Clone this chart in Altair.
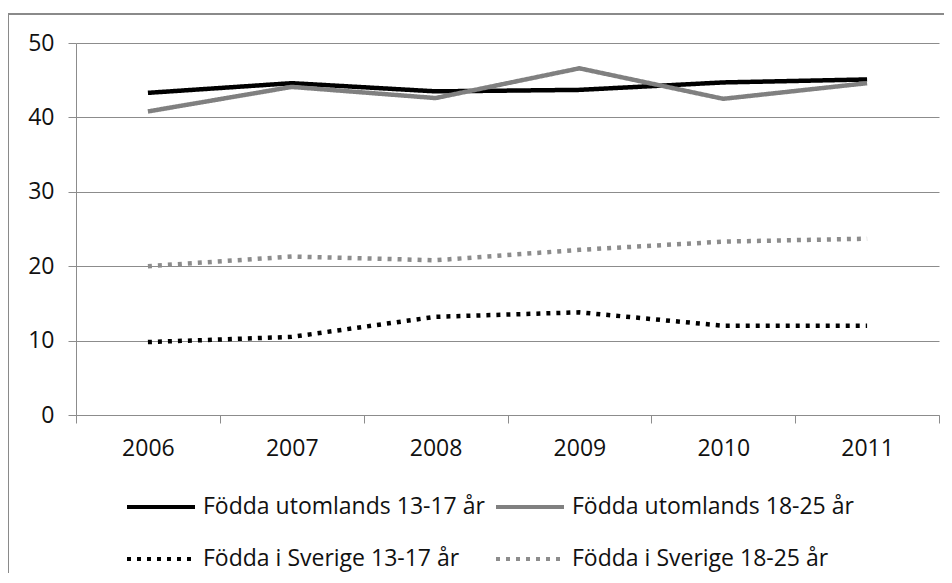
import altair as alt
import pandas as pd

years = ["2006", "2007", "2008", "2009", "2010", "2011"]
series_names = [
    "Födda utomlands 13-17 år",
    "Födda utomlands 18-25 år",
    "Födda i Sverige 13-17 år",
    "Födda i Sverige 18-25 år",
]
utl_13_17 = [43.3, 44.6, 43.5, 43.7, 44.7, 45.1]
utl_18_25 = [40.8, 44.1, 42.6, 46.6, 42.5, 44.6]
sve_13_17 = [9.8, 10.5, 13.2, 13.8, 12.0, 12.0]
sve_18_25 = [20.0, 21.3, 20.8, 22.2, 23.3, 23.7]
y_ticks = [0, 10, 20, 30, 40, 50]

series_colors = ["#000000", "#808080", "#000000", "#8c8c8c"]
series_dash = [[1, 0], [1, 0], [4, 6], [4, 6]]

rows = []
for name, vals in zip(series_names, [utl_13_17, utl_18_25, sve_13_17, sve_18_25]):
    for yr, v in zip(years, vals):
        rows.append({"Serie": name, "År": yr, "Värde": v})
df = pd.DataFrame(rows)

FONT = "Open Sans"
TXT = "#111111"
GRID = "#8c8c8c"

legend = alt.Legend(
    title=None,
    orient="none",
    direction="horizontal",
    legendX=51,
    legendY=445,
    columns=2,
    columnPadding=3,
    rowPadding=21,
    symbolType="M-1,0H3",
    symbolSize=1156,
    symbolStrokeWidth=4,
    symbolOffset=-2,
    labelOffset=40,
    labelFont=FONT,
    labelFontSize=23,
    labelColor=TXT,
    labelLimit=0,
    padding=0,
)

lines = alt.Chart(df).mark_line(strokeWidth=4.5, strokeCap="butt", strokeJoin="miter").encode(
    x=alt.X(
        "År:N",
        sort=years,
        scale=alt.Scale(paddingInner=0, paddingOuter=0),
        axis=alt.Axis(
            title=None,
            labelAngle=0,
            labelFont=FONT,
            labelFontSize=23,
            labelColor=TXT,
            labelPadding=14,
            tickBand="extent",
            tickSize=8,
            tickColor=GRID,
            domainColor=GRID,
            grid=False,
        ),
    ),
    y=alt.Y(
        "Värde:Q",
        scale=alt.Scale(domain=[0, 50], nice=False),
        axis=alt.Axis(
            title=None,
            values=y_ticks,
            labelFont=FONT,
            labelFontSize=23,
            labelColor=TXT,
            labelPadding=14,
            tickSize=8,
            tickColor=GRID,
            domainColor=GRID,
            gridColor=GRID,
            grid=True,
        ),
    ),
    color=alt.Color(
        "Serie:N",
        scale=alt.Scale(domain=series_names, range=series_colors),
        legend=legend,
    ),
    strokeDash=alt.StrokeDash(
        "Serie:N",
        scale=alt.Scale(domain=series_names, range=series_dash),
        legend=legend,
    ),
    order=alt.Order("År:N"),
)

frame = alt.Chart(alt.Data(values=[{"f": 1}])).mark_rect(
    fill=None, stroke="#8a8a8a", strokeWidth=2
).encode(
    x=alt.value(-68),
    x2=alt.value(920),
    y=alt.value(-29),
    y2=alt.value(560),
)

chart = alt.layer(frame, lines).properties(
    width=863,
    height=372,
    padding={"left": 68, "top": 35, "right": 5, "bottom": 158},
    autosize=alt.AutoSizeParams(type="none"),
    background="white",
).configure_view(stroke=None)

chart.save("out.html", embed_options={"renderer": "svg", "actions": False})
